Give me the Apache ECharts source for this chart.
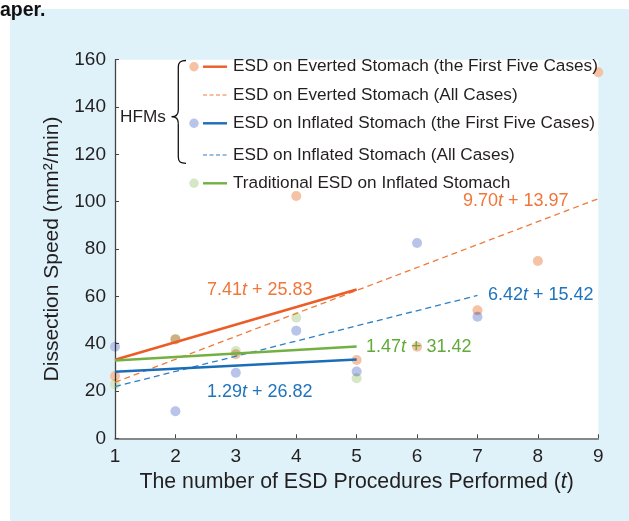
<!DOCTYPE html>
<html><head><meta charset="utf-8">
<script src="https://cdn.jsdelivr.net/npm/echarts@6/dist/echarts.min.js"></script>
<style>
html,body{margin:0;padding:0;background:#fff;width:629px;height:521px;overflow:hidden;}
#bg{position:absolute;left:10px;top:9px;right:0;bottom:0;background:#dff2fa;}
#chart{position:absolute;left:0;top:0;width:629px;height:521px;}
</style></head><body>
<div id="bg"></div><div id="chart"></div>
<script>
// ---- data ----
const procedures = [1, 2, 3, 4, 5, 6, 7, 8, 9];
const evertedSpeed = [26.3, 41.8, 35.5, 102.4, 33.1, 38.7, 54.1, 74.9, 154.7];
const inflatedSpeed = [38.7, 11.4, 27.7, 45.5, 28.2, 82.5, 51.4];
const traditionalSpeed = [22.8, 42.0, 36.9, 51.0, 25.4];
// fitted lines: [t start, t end] and values at those ends
const fitEvertedFirstT = [1, 5], fitEvertedFirstV = [33.24, 62.88];
const fitEvertedAllT = [1, 9], fitEvertedAllV = [23.67, 101.27];
const fitInflatedFirstT = [1, 5], fitInflatedFirstV = [28.11, 33.27];
const fitInflatedAllT = [1, 7], fitInflatedAllV = [21.84, 60.36];
const fitTraditionalT = [1, 5], fitTraditionalV = [32.89, 38.77];
const legendNames = [
  'ESD on Everted Stomach (the First Five Cases)',
  'ESD on Everted Stomach (All Cases)',
  'ESD on Inflated Stomach (the First Five Cases)',
  'ESD on Inflated Stomach (All Cases)',
  'Traditional ESD on Inflated Stomach'
];
const equations = [
  ['7.41', '25.83'], ['9.70', '13.97'], ['6.42', '15.42'], ['1.47', '31.42'], ['1.29', '26.82']
];
const yTicks = [0, 20, 40, 60, 80, 100, 120, 140, 160];

// ---- styling ----
const FONT = '"Liberation Sans", Arial, Helvetica, sans-serif';
const C = {
  orLine: '#eb5c27', orDash: '#f07a3a', orText: '#f0763a', orPt: '#f5c2a4',
  blLine: '#1a6db6', blDash: '#2a80c6', blText: '#1f74bd', blPt: '#b8c4ea',
  grLine: '#72b043', grText: '#62aa3a', grPt: '#d6e7c6', text: '#231f20'
};
const pairs = (ts, vs) => ts.map((t, i) => [t, vs[i]]);

const chart = echarts.init(document.getElementById('chart'), null, {renderer: 'canvas'});

function scatter(name, vals, color) {
  return {
    type: 'scatter', name, data: pairs(procedures.slice(0, vals.length), vals),
    symbolSize: 10, itemStyle: {color, opacity: 1}, blendMode: 'multiply', z: 2,
    emphasis: {disabled: true}, silent: true
  };
}
function line(name, ts, vs, color, width, dashed) {
  return {
    type: 'line', name, data: pairs(ts, vs), symbol: 'none', z: 4, silent: true,
    lineStyle: {color, width, type: dashed ? [6, 4] : 'solid', cap: 'butt'},
    emphasis: {disabled: true}
  };
}

// legend graphics (pixel layout)
const LX = 194, rows = [66.7, 95, 123.3, 155, 183.3];
const legendItems = [
  {pt: C.orPt, line: C.orLine, dash: false},
  {pt: null, line: C.orDash, dash: true},
  {pt: C.blPt, line: C.blLine, dash: false},
  {pt: null, line: C.blDash, dash: true},
  {pt: C.grPt, line: C.grLine, dash: false}
];
const graphics = [];
legendItems.forEach((it, i) => {
  const y = rows[i];
  if (it.pt) graphics.push({type: 'circle', shape: {cx: LX, cy: y, r: 4.7}, style: {fill: it.pt}, silent: true});
  graphics.push({type: 'line', shape: {x1: 203, y1: y, x2: 227, y2: y},
    style: {stroke: it.line, lineWidth: it.dash ? 1.2 : 2.4, lineDash: it.dash ? [4, 2.5] : null}, silent: true});
  graphics.push({type: 'text', x: 233, y: y, style: {text: legendNames[i], font: '17.2px ' + FONT,
    fill: C.text, textVerticalAlign: 'middle'}, silent: true});
});
// curly brace
const braceStyle = {stroke: '#111', lineWidth: 1.3, fill: null};
[
  {x1: 186, y1: 60.5, x2: 178.3, y2: 67, cpx1: 180.5, cpy1: 60.5, cpx2: 178.3, cpy2: 62},
  {x1: 178.3, y1: 110, x2: 171.7, y2: 116.7, cpx1: 178.3, cpy1: 114.5, cpx2: 176.5, cpy2: 116.7},
  {x1: 171.7, y1: 116.7, x2: 178.3, y2: 123.5, cpx1: 176.5, cpy1: 116.7, cpx2: 178.3, cpy2: 119},
  {x1: 178.3, y1: 157, x2: 186, y2: 163.3, cpx1: 178.3, cpy1: 162, cpx2: 180.5, cpy2: 163.3}
].forEach(s => graphics.push({type: 'bezierCurve', shape: s, style: braceStyle, silent: true}));
graphics.push({type: 'line', shape: {x1: 178.3, y1: 67, x2: 178.3, y2: 110}, style: braceStyle, silent: true});
graphics.push({type: 'line', shape: {x1: 178.3, y1: 123.5, x2: 178.3, y2: 157}, style: braceStyle, silent: true});
graphics.push({type: 'text', x: 120, y: 117, style: {text: 'HFMs', font: '17.2px ' + FONT, fill: C.text, textVerticalAlign: 'middle'}, silent: true});
graphics.push({type: 'text', x: 0, y: 11, style: {text: 'aper.', font: 'bold 19.5px ' + FONT, fill: '#111', textVerticalAlign: 'middle'}, silent: true});

// equation labels
const eqPos = [[207, 290, C.orText], [463, 201, C.orText], [488, 295, C.blText], [366, 347, C.grText], [207, 392, C.blText]];
equations.forEach((e, i) => {
  const p = eqPos[i];
  graphics.push({type: 'text', x: p[0], y: p[1], z: 10, silent: true, style: {
    text: e[0] + '{it|t} + ' + e[1], fill: p[2], font: '18px ' + FONT, textVerticalAlign: 'middle',
    rich: {it: {fontStyle: 'italic', fontSize: 18, fontFamily: FONT, fill: p[2]}}
  }});
});

const option = {
  backgroundColor: 'transparent',
  animation: false,
  textStyle: {fontFamily: FONT},
  grid: {left: 115, right: 30.7, top: 59.7, bottom: 82.7, containLabel: false, outerBoundsMode: 'none',
    show: true, backgroundColor: '#ffffff', borderWidth: 0},
  xAxis: {
    type: 'value', min: 1, max: 9, interval: 1,
    name: 'The number of ESD Procedures Performed ({it|t})', nameLocation: 'middle', nameGap: 32,
    nameTextStyle: {fontSize: 21.3, color: C.text, fontFamily: FONT,
      rich: {it: {fontStyle: 'italic', fontSize: 21.3, color: C.text, fontFamily: FONT}}},
    axisLine: {show: true, onZero: false, lineStyle: {color: '#666', width: 1.6}},
    axisTick: {show: true, inside: true, length: 4, lineStyle: {color: '#444', width: 1}},
    axisLabel: {fontSize: 19, color: C.text, margin: 9, fontFamily: FONT},
    splitLine: {show: false}
  },
  yAxis: {
    type: 'value', min: yTicks[0], max: yTicks[yTicks.length - 1], interval: 20,
    name: 'Dissection Speed (mm\u00B2/min)', nameLocation: 'middle', nameGap: 52,
    nameTextStyle: {fontSize: 21, color: C.text, fontFamily: FONT},
    axisLine: {show: true, onZero: false, lineStyle: {color: '#444', width: 1.3}},
    axisTick: {show: true, inside: true, length: 4, lineStyle: {color: '#444', width: 1}},
    axisLabel: {fontSize: 19, color: C.text, margin: 9, fontFamily: FONT},
    splitLine: {show: false}
  },
  series: [
    scatter('Everted points', evertedSpeed, C.orPt),
    scatter('Inflated points', inflatedSpeed, C.blPt),
    scatter('Traditional points', traditionalSpeed, C.grPt),
    line('Everted all', fitEvertedAllT, fitEvertedAllV, C.orDash, 1.3, true),
    line('Inflated all', fitInflatedAllT, fitInflatedAllV, C.blDash, 1.3, true),
    line('Everted first five', fitEvertedFirstT, fitEvertedFirstV, C.orLine, 2.6, false),
    line('Traditional', fitTraditionalT, fitTraditionalV, C.grLine, 2.6, false),
    line('Inflated first five', fitInflatedFirstT, fitInflatedFirstV, C.blLine, 2.6, false)
  ],
  graphic: graphics
};
chart.setOption(option);
</script>
</body></html>
